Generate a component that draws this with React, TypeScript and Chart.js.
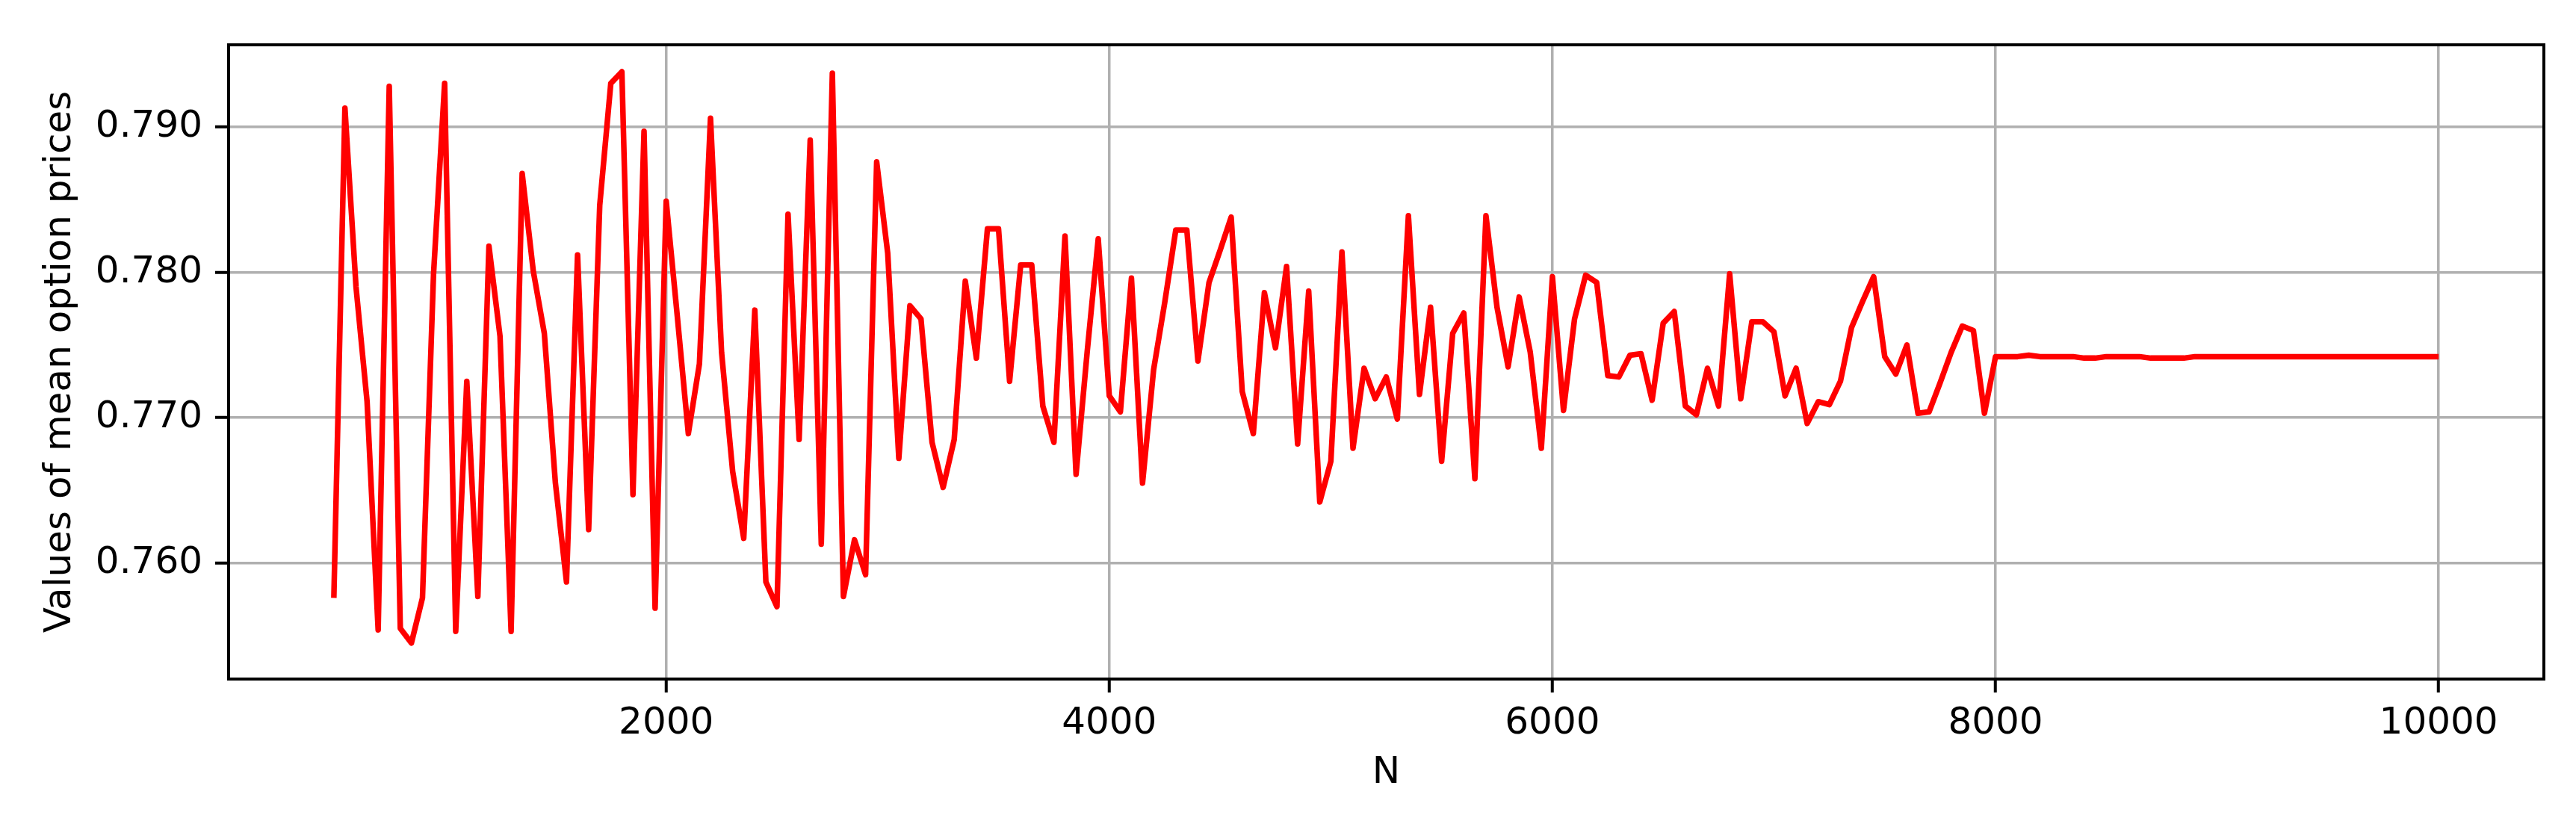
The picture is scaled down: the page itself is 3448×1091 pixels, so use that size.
import { useEffect, useRef } from "react";
import { Chart, registerables } from "chart.js";

Chart.register(...registerables);

// Sample sizes N (500 to 10000 in steps of 50)
const sampleSizes: number[] = Array.from({ length: 191 }, (_, i) => 500 + 50 * i);

// Mean option prices
const pricesEarly: number[] = [
  0.7576, 0.7913, 0.7790, 0.7711, 0.7554, 0.7928, 0.7555, 0.7545, 0.7576, 0.7799,
  0.7930, 0.7553, 0.7725, 0.7577, 0.7818, 0.7756, 0.7553, 0.7868, 0.7801, 0.7758,
  0.7655, 0.7587, 0.7812, 0.7623, 0.7846, 0.7930, 0.7938, 0.7647, 0.7897, 0.7569,
  0.7849, 0.7770, 0.7689, 0.7737, 0.7906, 0.7745, 0.7663, 0.7617, 0.7774, 0.7587,
  0.7570, 0.7840, 0.7685, 0.7891, 0.7613, 0.7937, 0.7577, 0.7616, 0.7592, 0.7876,
];
const pricesMiddle: number[] = [
  0.7813, 0.7672, 0.7777, 0.7768, 0.7683, 0.7652, 0.7685, 0.7794, 0.7741, 0.7830,
  0.7830, 0.7725, 0.7805, 0.7805, 0.7708, 0.7683, 0.7825, 0.7661, 0.7745, 0.7823,
  0.7715, 0.7704, 0.7796, 0.7655, 0.7733, 0.7779, 0.7829, 0.7829, 0.7739, 0.7793,
  0.7815, 0.7838, 0.7718, 0.7689, 0.7786, 0.7748, 0.7804, 0.7682, 0.7787, 0.7642,
  0.7670, 0.7814, 0.7679, 0.7734, 0.7713, 0.7728, 0.7699, 0.7839, 0.7716, 0.7776,
];
const pricesLate: number[] = [
  0.7670, 0.7758, 0.7772, 0.7658, 0.7839, 0.7776, 0.7735, 0.7783, 0.7745, 0.7679,
  0.7797, 0.7705, 0.7768, 0.7798, 0.7793, 0.7729, 0.7728, 0.7743, 0.7744, 0.7712,
  0.7765, 0.7773, 0.7708, 0.7702, 0.7734, 0.7708, 0.7799, 0.7713, 0.7766, 0.7766,
  0.7759, 0.7715, 0.7734, 0.7696, 0.7711, 0.7709, 0.7725, 0.7762, 0.7780, 0.7797,
  0.7742, 0.7730, 0.7750, 0.7703, 0.7704, 0.7724, 0.7745, 0.7763, 0.7760, 0.7703,
];
const pricesFlat: number[] = [
  0.7742, 0.7742, 0.7742, 0.7743, 0.7742, 0.7742, 0.7742, 0.7742, 0.7741, 0.7741,
  0.7742, 0.7742, 0.7742, 0.7742, 0.7741, 0.7741, 0.7741, 0.7741, 0.7742, 0.7742,
  0.7742, 0.7742, 0.7742, 0.7742, 0.7742, 0.7742, 0.7742, 0.7742, 0.7742, 0.7742,
  0.7742, 0.7742, 0.7742, 0.7742, 0.7742, 0.7742, 0.7742, 0.7742, 0.7742, 0.7742,
  0.7742,
];
const meanPrices: number[] = [...pricesEarly, ...pricesMiddle, ...pricesLate, ...pricesFlat];

const xTicks: number[] = [2000, 4000, 6000, 8000, 10000];
const yTicks: number[] = [0.76, 0.77, 0.78, 0.79];
const xLabel = "N";
const yLabel = "Values of mean option prices";

const FONT = "'DejaVu Sans', sans-serif";

const framePlugin = {
  id: "frame",
  afterDatasetsDraw(chart: any) {
    const { ctx, chartArea } = chart;
    const { left, top, right, bottom } = chartArea;
    ctx.save();
    ctx.strokeStyle = "#000000";
    ctx.lineWidth = 4;
    ctx.strokeRect(left, top, right - left, bottom - top);
    ctx.restore();
  },
};

export default function App() {
  const canvasRef = useRef<HTMLCanvasElement | null>(null);

  useEffect(() => {
    const canvas = canvasRef.current;
    if (!canvas) return;
    const points = sampleSizes.map((n, i) => ({ x: n, y: meanPrices[i] }));
    const chart = new Chart(canvas, {
      type: "line",
      data: {
        datasets: [
          {
            data: points,
            borderColor: "#ff0000",
            borderWidth: 7.5,
            pointRadius: 0,
            tension: 0,
            fill: false,
            borderJoinStyle: "round",
            borderCapStyle: "butt",
          },
        ],
      },
      options: {
        responsive: false,
        animation: false,
        devicePixelRatio: 1,
        layout: { padding: { left: 0, right: 43, top: 60, bottom: 0 } },
        plugins: {
          legend: { display: false },
          tooltip: { enabled: false },
        },
        scales: {
          x: {
            type: "linear",
            min: 25,
            max: 10475,
            afterBuildTicks: (scale: any) => {
              scale.ticks = xTicks.map((v) => ({ value: v }));
            },
            afterFit: (scale: any) => {
              scale.height = 182;
            },
            grid: {
              color: "#b0b0b0",
              lineWidth: 3.5,
              drawTicks: true,
              tickLength: 18,
              tickColor: "#000000",
              tickWidth: 4,
            },
            border: { display: false },
            ticks: {
              color: "#000000",
              font: { family: FONT, size: 50 },
              padding: 12,
              maxRotation: 0,
              autoSkip: false,
              callback: (v: any) => String(v),
            },
            title: {
              display: true,
              text: xLabel,
              color: "#000000",
              font: { family: FONT, size: 50 },
              padding: { top: 0, bottom: 26 },
            },
          },
          y: {
            type: "linear",
            min: 0.75202,
            max: 0.79565,
            afterBuildTicks: (scale: any) => {
              scale.ticks = yTicks.map((v) => ({ value: v }));
            },
            afterFit: (scale: any) => {
              scale.width = 306;
            },
            grid: {
              color: "#b0b0b0",
              lineWidth: 3.5,
              drawTicks: true,
              tickLength: 18,
              tickColor: "#000000",
              tickWidth: 4,
            },
            border: { display: false },
            ticks: {
              color: "#000000",
              font: { family: FONT, size: 50 },
              padding: 17,
              autoSkip: false,
              callback: (v: any) => Number(v).toFixed(3),
            },
            title: {
              display: true,
              text: yLabel,
              color: "#000000",
              font: { family: FONT, size: 50 },
              padding: { top: 51, bottom: 0 },
            },
          },
        },
      },
      plugins: [framePlugin],
    });
    return () => chart.destroy();
  }, []);

  return (
    <div
      style={{
        position: "fixed",
        left: 0,
        top: 0,
        width: 3448,
        height: 1091,
        background: "#ffffff",
      }}
    >
      <canvas
        ref={canvasRef}
        width={3448}
        height={1091}
        style={{ width: 3448, height: 1091, display: "block" }}
      />
    </div>
  );
}
